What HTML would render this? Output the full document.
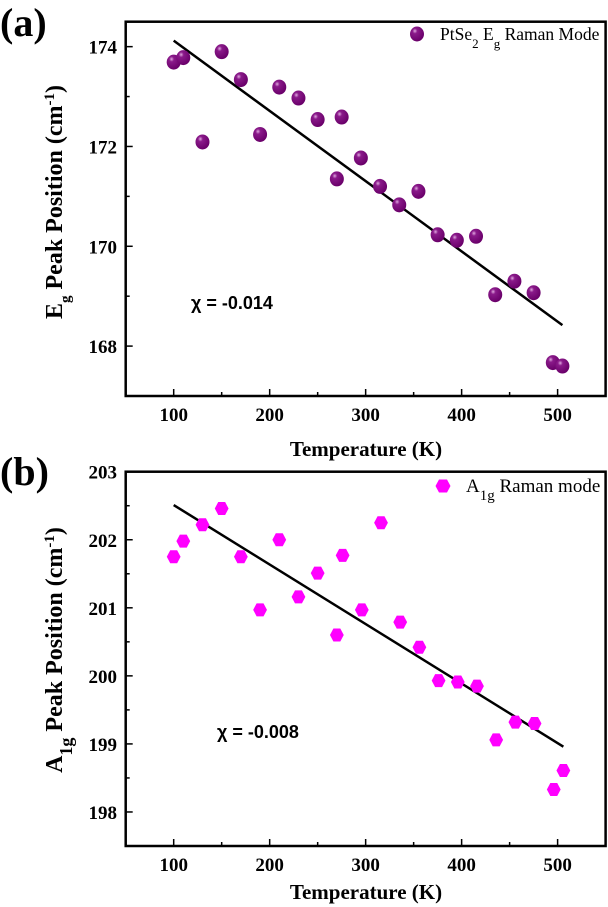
<!DOCTYPE html>
<html><head><meta charset="utf-8">
<style>
body{margin:0;background:#fff;width:608px;height:907px;overflow:hidden}
svg{display:block}
.tk{font-family:"Liberation Serif",serif;font-weight:bold;font-size:19px}
.tt{font-family:"Liberation Serif",serif;font-weight:bold;font-size:21px}
.yt{font-family:"Liberation Serif",serif;font-weight:bold;font-size:24px}
.lg{font-family:"Liberation Serif",serif;font-size:17.5px}
.chi{font-family:"Liberation Sans",sans-serif;font-weight:bold;font-size:18px}
.pl{font-family:"Liberation Serif",serif;font-weight:bold;font-size:40px}
</style></head>
<body>
<svg id="chart" width="608" height="907">
<defs>
<radialGradient id="sph" cx="0.35" cy="0.3" r="0.7">
<stop offset="0" stop-color="#e0a8e0"/><stop offset="0.25" stop-color="#8a1a8a"/><stop offset="1" stop-color="#6a006a"/>
</radialGradient>
</defs>
</svg>
<script>
const tempsA=[100,110,130,150,170,190,210,230,250,270,275,295,315,335,355,375,395,415,435,455,475,495,505];
const egValues=[173.69,173.78,172.09,173.9,173.34,172.24,173.19,172.97,172.54,171.35,172.59,171.77,171.2,170.83,171.1,170.23,170.12,170.2,169.03,169.3,169.07,167.67,167.6];
const egFitX=[100,505];
const egFitY=[174.12,168.42];
const egTicks=[168,170,172,174];
const tempsB=[100,110,130,150,170,190,210,230,250,270,276,296,316,336,356,376,396,416,436,456,476,496,506];
const a1gValues=[201.75,201.98,202.22,202.46,201.75,200.97,202.0,201.16,201.51,200.6,201.77,200.97,202.25,200.79,200.42,199.93,199.91,199.85,199.06,199.32,199.3,198.33,198.61];
const a1gFitX=[100,506];
const a1gFitY=[202.51,198.96];
const a1gTicks=[198,199,200,201,202,203];
const xTicks=[100,200,300,400,500];

const NS="http://www.w3.org/2000/svg";
const svg=document.getElementById('chart');
function mk(tag,attrs,parent){const e=document.createElementNS(NS,tag);for(const k in attrs)e.setAttribute(k,attrs[k]);(parent||svg).appendChild(e);return e;}

function panel(o){
  const g=mk('g',{});
  
  
  const L=125.7,R=605.6,T=o.top,B=o.bottom;
  const xs=v=>L+(v-50)/(550-50)*(R-L);
  const ys=v=>B-(v-o.ymin)/(o.ymax-o.ymin)*(B-T);
  const fr=mk('rect',{x:L,y:T,width:R-L,height:B-T,fill:'none',stroke:'#000','stroke-width':2.5},g);
  
  
  for(let v=50;v<=550;v+=50){
    const major=v%100===0;
    mk('line',{x1:xs(v),x2:xs(v),y1:B,y2:B-(major?7:4),stroke:'#000','stroke-width':1.5},g);
  }
  xTicks.forEach(v=>{
    const t=mk('text',{x:xs(v),y:B+25,'text-anchor':'middle',class:'tk'},g);
    t.textContent=v;
    
    
  });
  const step=o.yTicks[1]-o.yTicks[0];
  for(let v=o.yTicks[0]-step/2;v<=o.ymax+1e-9;v+=step/2){
    if(v<o.ymin-1e-9)continue;
    const major=o.yTicks.some(t=>Math.abs(t-v)<1e-6);
    mk('line',{x1:L,x2:L+(major?7:4),y1:ys(v),y2:ys(v),stroke:'#000','stroke-width':1.5},g);
  }
  o.yTicks.forEach(v=>{
    const t=mk('text',{x:117,y:ys(v)+7,'text-anchor':'end',class:'tk'},g);
    t.textContent=v;
    
    
  });
  const fl=mk('line',{x1:xs(o.fitX[0]),y1:ys(o.fitY[0]),x2:xs(o.fitX[1]),y2:ys(o.fitY[1]),stroke:'#000','stroke-width':2.5},g);
  
  
  o.xs.forEach((xv,i)=>{
    const px=xs(xv),py=ys(o.ys[i]);
    let p;
    if(o.hex){p=mk('polygon',{points:hexPts(px,py,7.5),fill:'#ff00ff'},g);}
    else{p=mk('ellipse',{cx:px,cy:py,rx:7,ry:7.5,fill:'url(#sph)'},g);}
    
    
  });
  return g;
}
function hexPts(cx,cy,r){let s=[];for(let k=0;k<6;k++){const a=Math.PI/3*k;s.push((cx+r*Math.cos(a)*0.92)+','+(cy+r*Math.sin(a)));}return s.join(' ');}

panel({name:'panel-a',top:21.7,bottom:396,ymin:167,ymax:174.5,yTicks:egTicks,xs:tempsA,ys:egValues,fitX:egFitX,fitY:egFitY,hex:false});
panel({name:'panel-b',top:471.7,bottom:846,ymin:197.5,ymax:203,yTicks:a1gTicks,xs:tempsB,ys:a1gValues,fitX:a1gFitX,fitY:a1gFitY,hex:true});
</script>
<svg width="608" height="907" style="position:absolute;left:0;top:0">
<text class="pl" x="0" y="36">(a)</text>
<text class="pl" x="0" y="485">(b)</text>
<ellipse cx="417" cy="34" rx="7" ry="7.5" fill="url(#sph)"/>
<text class="lg" x="440" y="40">PtSe<tspan baseline-shift="sub" font-size="13">2</tspan> E<tspan baseline-shift="sub" font-size="13">g</tspan> Raman Mode</text>
<polygon points="450.5,486 447,492.5 439,492.5 435.5,486 439,479.5 447,479.5" fill="#ff00ff"/>
<text class="lg" x="466" y="492" style="font-size:19px">A<tspan baseline-shift="sub" font-size="15">1g</tspan> Raman mode</text>
<text class="chi" x="191" y="309">χ = -0.014</text>
<text class="chi" x="217" y="738">χ = -0.008</text>
<text class="tt" x="366" y="456" text-anchor="middle">Temperature (K)</text>
<text class="tt" x="366" y="899" text-anchor="middle">Temperature (K)</text>
<text class="yt" transform="translate(62,202) rotate(-90)" text-anchor="middle">E<tspan baseline-shift="sub" font-size="15">g</tspan> Peak Position (cm<tspan baseline-shift="super" font-size="15">-1</tspan>)</text>
<text class="yt" transform="translate(62,650) rotate(-90)" text-anchor="middle">A<tspan baseline-shift="sub" font-size="18">1g</tspan> Peak Position (cm<tspan baseline-shift="super" font-size="15">-1</tspan>)</text>
</svg>
</body></html>
